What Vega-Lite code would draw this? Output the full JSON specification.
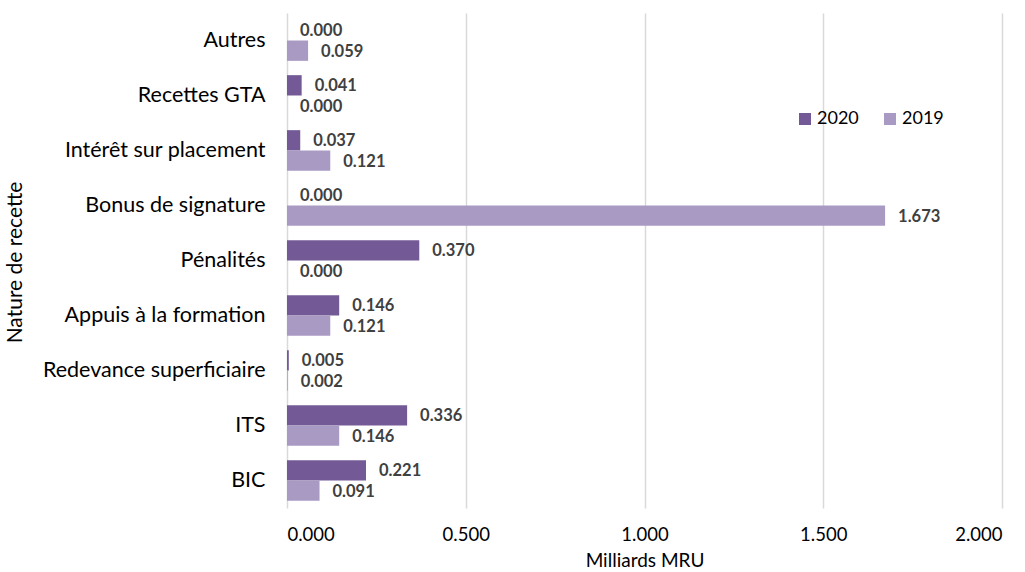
{
  "$schema": "https://vega.github.io/schema/vega-lite/v6.json",
  "width": 715,
  "height": 495,
  "autosize": {"type": "none"},
  "padding": {"left": 287, "top": 13, "right": 23, "bottom": 64},
  "background": "white",
  "config": {
    "view": {"stroke": null},
    "font": "Lato"
  },
  "data": {
    "values": [
      {"categorie": "Autres ", "annee": "2020", "valeur": 0.000},
      {"categorie": "Autres ", "annee": "2019", "valeur": 0.059},
      {"categorie": "Recettes GTA", "annee": "2020", "valeur": 0.041},
      {"categorie": "Recettes GTA", "annee": "2019", "valeur": 0.000},
      {"categorie": "Intérêt sur placement", "annee": "2020", "valeur": 0.037},
      {"categorie": "Intérêt sur placement", "annee": "2019", "valeur": 0.121},
      {"categorie": "Bonus de signature", "annee": "2020", "valeur": 0.000},
      {"categorie": "Bonus de signature", "annee": "2019", "valeur": 1.673},
      {"categorie": "Pénalités ", "annee": "2020", "valeur": 0.370},
      {"categorie": "Pénalités ", "annee": "2019", "valeur": 0.000},
      {"categorie": "Appuis à la formation ", "annee": "2020", "valeur": 0.146},
      {"categorie": "Appuis à la formation ", "annee": "2019", "valeur": 0.121},
      {"categorie": "Redevance superficiaire", "annee": "2020", "valeur": 0.005},
      {"categorie": "Redevance superficiaire", "annee": "2019", "valeur": 0.002},
      {"categorie": "ITS", "annee": "2020", "valeur": 0.336},
      {"categorie": "ITS", "annee": "2019", "valeur": 0.146},
      {"categorie": "BIC", "annee": "2020", "valeur": 0.221},
      {"categorie": "BIC", "annee": "2019", "valeur": 0.091}
    ]
  },
  "encoding": {
    "y": {
      "field": "categorie",
      "type": "nominal",
      "sort": ["Autres ", "Recettes GTA", "Intérêt sur placement", "Bonus de signature", "Pénalités ", "Appuis à la formation ", "Redevance superficiaire", "ITS", "BIC"],
      "scale": {"paddingInner": 0.26, "paddingOuter": 0.13},
      "axis": {
        "title": "Nature de recette",
        "titleFont": "Lato",
        "titleFontSize": 21,
        "titleFontWeight": "normal",
        "titleColor": "#000000",
        "titleX": -262,
        "titleY": 249,
        "titleAngle": 270,
        "titleBaseline": "bottom",
        "titleAlign": "center",
        "labelFont": "Lato",
        "labelFontSize": 21.5,
        "labelColor": "#000000",
        "labelPadding": 22,
        "labelLimit": 400,
        "domain": false,
        "ticks": false,
        "grid": false
      }
    },
    "yOffset": {"field": "annee", "type": "nominal", "sort": ["2020", "2019"], "scale": {"paddingInner": 0, "paddingOuter": 0}},
    "x": {
      "field": "valeur",
      "type": "quantitative",
      "scale": {"domain": [0, 2], "nice": false},
      "axis": {
        "title": "Milliards MRU",
        "titleFont": "Lato",
        "titleFontSize": 19,
        "titleFontWeight": "normal",
        "titleColor": "#000000",
        "titlePadding": 8,
        "values": [0, 0.5, 1, 1.5, 2],
        "format": ".3f",
        "labelFont": "Lato",
        "labelFontSize": 18.5,
        "labelColor": "#000000",
        "labelPadding": 17,
        "domain": false,
        "ticks": false,
        "grid": true,
        "gridColor": "#d9d9d9",
        "gridWidth": 1.5
      }
    }
  },
  "layer": [
    {
      "mark": {"type": "bar"},
      "encoding": {
        "color": {
          "field": "annee",
          "type": "nominal",
          "sort": ["2020", "2019"],
          "scale": {"domain": ["2020", "2019"], "range": ["#735A96", "#A99AC3"]},
          "legend": {
            "title": null,
            "orient": "none",
            "direction": "horizontal",
            "legendX": 509,
            "legendY": 97,
            "symbolType": "square",
            "symbolSize": 144,
            "symbolStrokeWidth": 0,
            "labelFont": "Lato",
            "labelFontSize": 18,
            "labelColor": "#000000",
            "columnPadding": 22,
            "labelOffset": 3
          }
        }
      }
    },
    {
      "mark": {"type": "text", "align": "left", "baseline": "middle", "dx": 13, "dy": 1, "fontWeight": "bold", "fontSize": 16.5, "color": "#404040", "font": "Lato"},
      "encoding": {
        "text": {"field": "valeur", "type": "quantitative", "format": ".3f"}
      }
    }
  ]
}
